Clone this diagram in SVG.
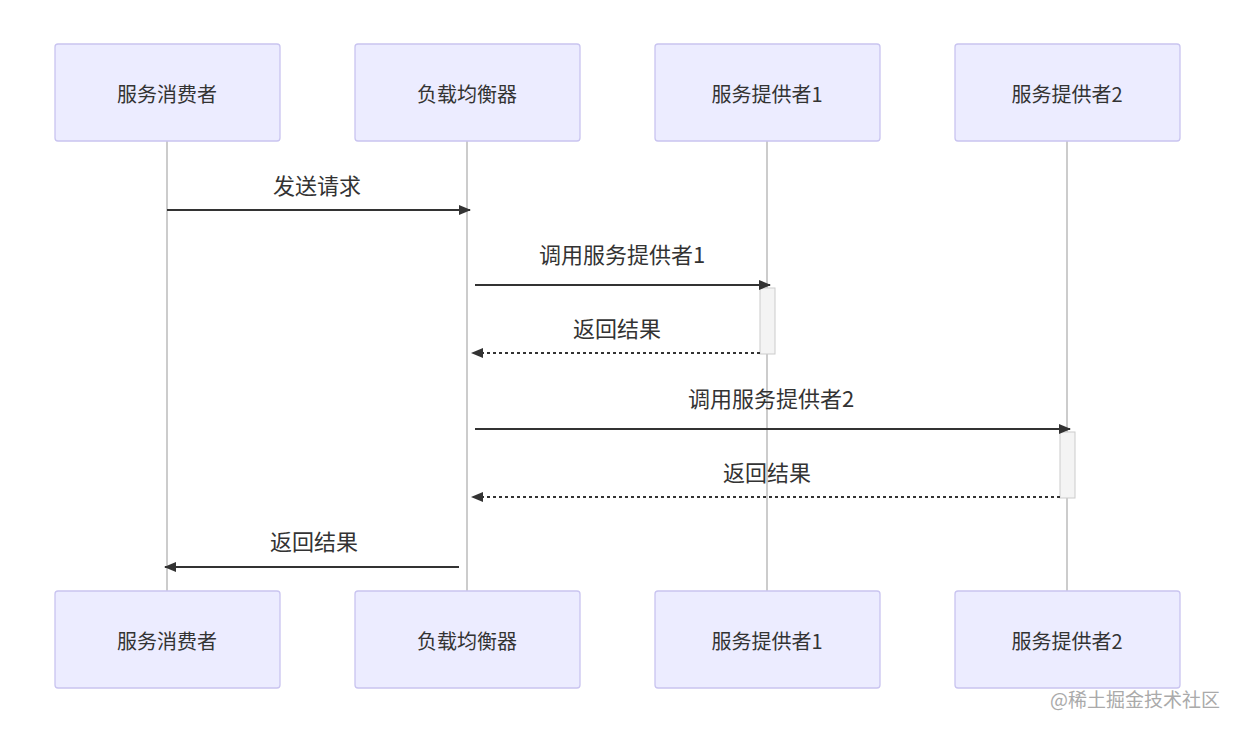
<svg xmlns="http://www.w3.org/2000/svg" width="1240" height="732" viewBox="0 0 1240 732">
<style>
.box{fill:#ECECFF;stroke:#C9C4F0;stroke-width:1.3}
.bt{font-family:"Noto Sans CJK SC","Liberation Sans",sans-serif;font-size:20px;fill:#333;text-anchor:middle;dominant-baseline:central}
.life{stroke:#999;stroke-width:1}
.msg{stroke:#333;stroke-width:2;fill:none}
.dash{stroke-dasharray:3,3}
.mt{font-family:"Noto Sans CJK SC","Liberation Sans",sans-serif;font-size:22px;fill:#333;text-anchor:middle}
.act{fill:#F4F4F4;stroke:#CCC;stroke-width:1}
</style>
<defs>
<marker id="ah" viewBox="0 0 12 10" refX="11" refY="5" markerWidth="12" markerHeight="10" markerUnits="userSpaceOnUse" orient="auto"><path d="M0,0L12,5L0,10z" fill="#333"/></marker>
</defs>
<rect width="1240" height="732" fill="#fff"/>
<g id="lifelines">
<line class="life" x1="167" y1="141" x2="167" y2="591"/>
<line class="life" x1="467" y1="141" x2="467" y2="591"/>
<line class="life" x1="767" y1="141" x2="767" y2="591"/>
<line class="life" x1="1067" y1="141" x2="1067" y2="591"/>
</g>
<g id="consumer"><rect class="box" x="55" y="44" width="225" height="97" rx="3"/><text class="bt" x="167" y="93">服务消费者</text></g>
<g id="lb"><rect class="box" x="355" y="44" width="225" height="97" rx="3"/><text class="bt" x="467" y="93">负载均衡器</text></g>
<g id="p1"><rect class="box" x="655" y="44" width="225" height="97" rx="3"/><text class="bt" x="767" y="93">服务提供者1</text></g>
<g id="p2"><rect class="box" x="955" y="44" width="225" height="97" rx="3"/><text class="bt" x="1067" y="93">服务提供者2</text></g>
<g id="consumer-b"><rect class="box" x="55" y="591" width="225" height="97" rx="3"/><text class="bt" x="167" y="640">服务消费者</text></g>
<g id="lb-b"><rect class="box" x="355" y="591" width="225" height="97" rx="3"/><text class="bt" x="467" y="640">负载均衡器</text></g>
<g id="p1-b"><rect class="box" x="655" y="591" width="225" height="97" rx="3"/><text class="bt" x="767" y="640">服务提供者1</text></g>
<g id="p2-b"><rect class="box" x="955" y="591" width="225" height="97" rx="3"/><text class="bt" x="1067" y="640">服务提供者2</text></g>
<g id="act1"><rect class="act" x="760" y="288" width="15" height="66"/></g>
<g id="act2"><rect class="act" x="1060" y="432" width="15" height="66"/></g>
<g id="connectors">
<line class="msg" x1="167" y1="210" x2="470" y2="210" marker-end="url(#ah)"/>
<text class="mt" x="317" y="194">发送请求</text>
<line class="msg" x1="475" y1="285" x2="770" y2="285" marker-end="url(#ah)"/>
<text class="mt" x="622" y="263">调用服务提供者1</text>
<line class="msg dash" x1="760" y1="353" x2="472" y2="353" marker-end="url(#ah)"/>
<text class="mt" x="617" y="337">返回结果</text>
<line class="msg" x1="475" y1="429" x2="1070" y2="429" marker-end="url(#ah)"/>
<text class="mt" x="771" y="407">调用服务提供者2</text>
<line class="msg dash" x1="1060" y1="497" x2="472" y2="497" marker-end="url(#ah)"/>
<text class="mt" x="767" y="481">返回结果</text>
<line class="msg" x1="459" y1="567" x2="165" y2="567" marker-end="url(#ah)"/>
<text class="mt" x="314" y="550">返回结果</text>
</g>
<text x="1220" y="707" font-family="Noto Sans CJK SC,sans-serif" font-size="19" fill="#aaa" text-anchor="end">@稀土掘金技术社区</text>
</svg>
